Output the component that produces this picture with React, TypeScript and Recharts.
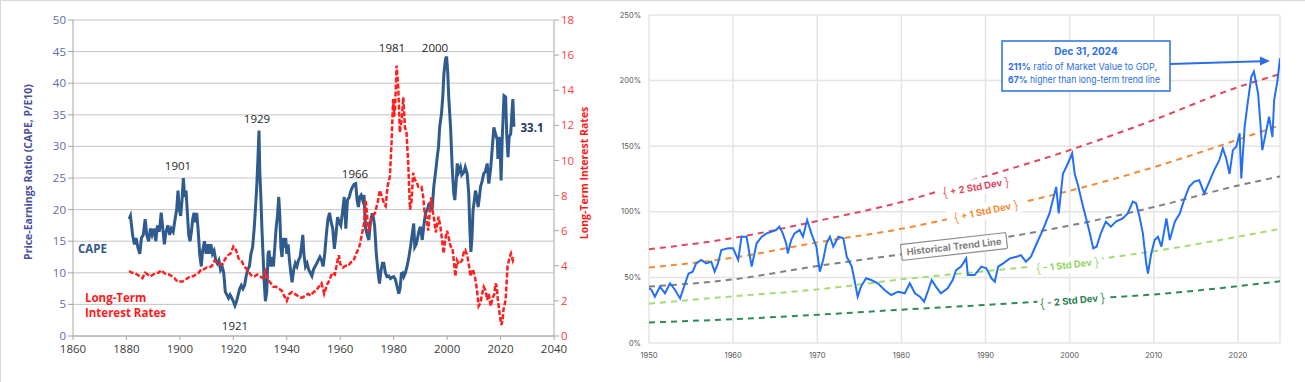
import React from "react";
import { LineChart, Line, XAxis, YAxis, CartesianGrid } from "recharts";

// ---------- left panel: Shiller CAPE vs long-term interest rates ----------
const capeYears = [
  1881, 1881.5, 1882.3, 1883, 1883.6, 1884.3, 1885, 1885.6, 1886.3, 1887, 1887.6, 1888.3, 1889, 1889.6,
  1890.3, 1891, 1891.6, 1892.3, 1893, 1893.6, 1894.2, 1894.8, 1895.5, 1896.2, 1896.8, 1897.5, 1898.2,
  1898.8, 1899.3, 1899.8, 1900.3, 1900.8, 1901.3, 1901.8, 1902.3, 1902.8, 1903.3, 1903.8, 1904.3, 1904.8,
  1905.3, 1905.8, 1906.3, 1906.8, 1907.4, 1908, 1908.5, 1909.2, 1909.8, 1910.4, 1911, 1911.6, 1912.2,
  1912.8, 1913.4, 1914, 1914.6, 1915.2, 1915.8, 1916.4, 1917, 1917.6, 1918.2, 1918.8, 1919.4, 1920,
  1920.6, 1921.2, 1921.8, 1922.4, 1923, 1923.6, 1924.2, 1924.8, 1925.4, 1926, 1926.6, 1927.2, 1927.8,
  1928.4, 1928.8, 1929.2, 1929.6, 1929.9, 1930.3, 1930.7, 1931.1, 1931.5, 1932, 1932.5, 1933, 1933.4,
  1933.8, 1934.4, 1935, 1935.5, 1936, 1936.5, 1937, 1937.4, 1937.8, 1938.2, 1938.7, 1939.2, 1939.6, 1940,
  1940.5, 1941, 1941.5, 1942, 1942.6, 1943.2, 1943.8, 1944.4, 1945, 1945.6, 1946, 1946.4, 1947, 1947.6,
  1948.2, 1948.8, 1949.4, 1950, 1950.6, 1951.2, 1951.8, 1952.4, 1953, 1953.6, 1954.2, 1954.8, 1955.4,
  1956, 1956.6, 1957.2, 1957.8, 1958.4, 1959, 1959.6, 1960.2, 1960.8, 1961.5, 1962.1, 1962.7, 1963.4,
  1964, 1964.6, 1965.2, 1965.8, 1966.3, 1966.8, 1967.3, 1967.8, 1968.4, 1968.9, 1969.5, 1970.1, 1970.7,
  1971.3, 1972, 1972.5, 1972.9, 1973.5, 1974.2, 1974.7, 1975.3, 1975.8, 1976.3, 1976.9, 1977.5, 1978.2,
  1978.8, 1979.4, 1980, 1980.6, 1981.3, 1981.9, 1982.4, 1982.9, 1983.4, 1983.8, 1984.4, 1985, 1985.7,
  1986.3, 1986.9, 1987.5, 1987.9, 1988.4, 1988.8, 1989.4, 1990, 1990.7, 1991.3, 1991.9, 1992.6, 1993.2,
  1993.8, 1994.4, 1995, 1995.7, 1996.3, 1996.8, 1997.2, 1997.9, 1998.4, 1998.8, 1999.4, 1999.8, 2000.2,
  2000.6, 2001.3, 2001.9, 2002.5, 2002.9, 2003.4, 2003.8, 2004.4, 2005, 2005.5, 2005.9, 2006.4, 2006.8,
  2007.5, 2008.1, 2008.5, 2008.9, 2009.3, 2009.7, 2010.2, 2010.6, 2011.1, 2011.6, 2012.1, 2012.5, 2013.1,
  2013.7, 2014.3, 2015, 2015.6, 2016.3, 2016.9, 2017.5, 2018.1, 2018.8, 2019, 2019.4, 2019.8, 2020.2,
  2020.6, 2021, 2021.3, 2021.9, 2022.3, 2022.8, 2023.2, 2023.8, 2024.2, 2024.6, 2025,
];
const capeValues = [
  18.5, 19, 16, 14.5, 15.5, 14, 13, 15.5, 16, 18.5, 16, 15, 17, 16,
  17, 15, 17.5, 16.5, 19.5, 17, 14.5, 16.5, 17.5, 16, 17, 16.5, 18.5,
  20, 23, 20, 19, 21.5, 25, 22, 23, 19.5, 16, 15, 16.5, 18.5,
  19.5, 18, 19.5, 17, 13, 11, 13.5, 15, 13, 14.5, 13, 14.5, 13,
  13.5, 12, 11.5, 12, 10.5, 11, 10, 7, 6.5, 6, 6.5, 6, 5.5,
  4.8, 5.5, 6.5, 7.5, 8, 7.5, 8, 9.5, 10.5, 11, 13, 14, 17,
  21, 24, 28, 32.5, 26, 22, 17, 13, 9, 5.5, 7, 13, 13.5,
  11, 12.5, 11, 14, 17, 19, 22, 19, 14, 12.5, 15.5, 14, 15.5, 13,
  14.5, 12, 10, 8.5, 10.5, 11.5, 11, 12, 12.5, 14.5, 16, 13, 11, 11.5,
  10.5, 10, 9.5, 10.5, 11, 11.5, 12, 12.5, 12, 11, 13, 16, 18.5,
  19.5, 18, 17, 13.8, 16, 18.8, 18, 17.5, 19.4, 22, 17, 21.5, 22,
  23, 23.6, 24, 24.1, 21.5, 20.4, 22, 22.3, 21.5, 22.3, 17, 16, 15.2,
  18, 19.4, 18.5, 17.3, 13, 9.9, 8.3, 10.5, 11.5, 11.5, 10, 9.4, 9.5,
  9.1, 9.3, 9.4, 9, 7.8, 6.7, 7.5, 9.9, 10, 9.4, 10, 11, 12.5,
  14.1, 16, 17.8, 14.1, 14.5, 15.2, 16.5, 17.3, 15.2, 17.5, 19.4, 20, 20.9,
  21, 20, 23.6, 26, 28.3, 30, 33, 35.2, 38, 41.5, 43.8, 44.2, 42,
  37.8, 33, 26.7, 22.5, 21.5, 24.5, 27.3, 26, 26.7, 25.5, 25.7, 26, 26.7,
  25.7, 22.5, 17, 13.3, 15.5, 19.9, 21.5, 23, 22, 20.4, 22, 23.6, 24.5,
  25.7, 26, 27.3, 24.1, 26.5, 29.8, 33, 32, 31, 28, 31.5, 30.5, 24.6,
  31, 35, 38, 37.8, 32, 28.3, 31.5, 32, 35, 37.5, 33.1,
];

const rateYears = [
  1881, 1882, 1883, 1884, 1885, 1886, 1887, 1888, 1889, 1890, 1891, 1892, 1893, 1894, 1895, 1896,
  1897, 1898, 1899, 1900, 1901, 1902, 1903, 1904, 1905, 1906, 1907, 1908, 1909, 1910, 1911, 1912,
  1913, 1914, 1915, 1916, 1917, 1918, 1919, 1920, 1921, 1922, 1923, 1924, 1925, 1926, 1927, 1928,
  1929, 1930, 1931, 1932, 1933, 1934, 1935, 1936, 1937, 1938, 1939, 1940, 1941, 1942, 1943, 1944,
  1945, 1946, 1947, 1948, 1949, 1950, 1951, 1952, 1953, 1954, 1955, 1956, 1957, 1958, 1959, 1959.5,
  1960, 1961, 1962, 1963, 1964, 1965, 1966, 1967, 1968, 1969, 1969.5, 1970, 1970.5, 1971, 1972,
  1973, 1974, 1974.8, 1975.7, 1976.5, 1977, 1977.7, 1978.6, 1979.2, 1979.8, 1980.2, 1980.5, 1981.1,
  1981.7, 1982.3, 1983, 1983.6, 1984.2, 1984.8, 1985.5, 1986.1, 1986.7, 1987.3, 1987.9, 1988.6,
  1989.2, 1990.4, 1991, 1991.6, 1992.3, 1992.9, 1993.5, 1994, 1994.5, 1995, 1995.8, 1996.8, 1997.5,
  1998.1, 1998.7, 1999.3, 2000, 2000.6, 2001.3, 2002, 2002.5, 2003.1, 2003.7, 2004.4, 2005, 2005.6,
  2006.3, 2006.8, 2007.5, 2008.1, 2008.7, 2009.6, 2010.4, 2011.2, 2011.8, 2012.5, 2013.1, 2013.7,
  2014.4, 2015, 2015.6, 2016.3, 2017.1, 2017.7, 2018.1, 2018.6, 2019, 2019.8, 2020.3, 2020.8, 2021.1,
  2021.9, 2022.6, 2023.4, 2023.9, 2024.6, 2025,
];
const rateValues = [
  3.7, 3.6, 3.6, 3.5, 3.4, 3.3, 3.6, 3.5, 3.4, 3.5, 3.6, 3.6, 3.75, 3.6, 3.5, 3.5,
  3.4, 3.3, 3.1, 3.1, 3.1, 3.2, 3.3, 3.4, 3.4, 3.5, 3.6, 3.8, 3.8, 3.9, 3.9, 4.0,
  4.3, 4.2, 4.1, 4.1, 4.4, 4.6, 4.7, 5.1, 4.9, 4.4, 4.3, 4.0, 3.8, 3.6, 3.4, 3.4,
  3.5, 3.4, 3.3, 3.7, 3.2, 3.0, 2.8, 2.8, 2.7, 2.6, 2.3, 2.0, 2.4, 2.5, 2.4, 2.3,
  2.2, 2.2, 2.3, 2.4, 2.3, 2.5, 2.6, 2.8, 3.0, 2.4, 2.9, 3.2, 3.6, 3.5, 4.3, 4.6,
  4.1, 3.9, 4.0, 4.0, 4.2, 4.3, 4.7, 5.0, 5.7, 6.5, 7.75, 7.0, 5.9, 6.3, 6.8,
  7.0, 7.6, 8.3, 7.9, 7.5, 7.4, 8.5, 9.1, 11, 13.5, 12.5, 12.9, 15.4,
  14.2, 11.6, 12.3, 13.6, 11.9, 11.6, 9.7, 7.2, 7.7, 9.3, 8.9, 8.8,
  8.5, 8.5, 8.0, 7.0, 6.8, 6.0, 7.0, 7.9, 7.2, 6.8, 5.9, 6.8, 6.2,
  5.5, 4.7, 5.5, 6.0, 5.6, 5.1, 5.0, 4.3, 3.4, 4.3, 4.1, 4.2, 4.3,
  4.8, 4.9, 4.6, 4.1, 3.4, 3.8, 3.4, 2.6, 1.7, 1.9, 2.4, 2.8,
  2.6, 2.05, 2.4, 1.7, 2.2, 2.4, 3.0, 2.8, 2.05, 1.1, 0.63, 0.9, 1.5,
  2.05, 3.95, 4.5, 4.7, 4.3, 4.5,
];

const capeTicks = [0, 5, 10, 15, 20, 25, 30, 35, 40, 45, 50];
const rateTicks = [0, 2, 4, 6, 8, 10, 12, 14, 16, 18];
const leftYearTicks = [1860, 1880, 1900, 1920, 1940, 1960, 1980, 2000, 2020, 2040];

// ---------- right panel: market value to GDP ----------
const mvYears = [
  1950, 1950.3, 1950.7, 1951.3, 1951.9, 1952.5, 1953.1, 1953.7, 1954.3, 1954.7, 1955.2, 1955.6, 1956.2,
  1956.8, 1957.4, 1957.8, 1958.2, 1958.6, 1959.4, 1960, 1960.6, 1961, 1961.6, 1962.2, 1962.8, 1963.4,
  1964, 1964.6, 1965.1, 1965.5, 1965.9, 1966.3, 1966.5, 1966.9, 1967.3, 1967.9, 1968.3, 1968.8, 1969.3,
  1969.9, 1970.3, 1970.7, 1971.1, 1971.5, 1971.9, 1972.5, 1973.1, 1973.5, 1974.1, 1974.5, 1974.8,
  1975.2, 1975.8, 1976.4, 1977.2, 1978, 1978.8, 1979.6, 1980.4, 1981, 1981.6, 1982.2, 1982.7, 1983.2,
  1983.6, 1984.1, 1984.7, 1985.5, 1986.1, 1986.5, 1987.1, 1987.7, 1987.9, 1988.7, 1989.5, 1990.1,
  1990.7, 1991.1, 1991.5, 1992.1, 1992.9, 1993.7, 1994.2, 1994.8, 1995.4, 1996, 1996.8, 1997.6, 1998.4,
  1998.7, 1999.2, 1999.8, 2000.3, 2000.6, 2001, 2001.4, 2002, 2002.4, 2002.8, 2003.2, 2003.7, 2004.3,
  2004.9, 2005.5, 2006.3, 2006.9, 2007.5, 2007.9, 2008.3, 2008.7, 2009.1, 2009.3, 2009.7, 2010.1,
  2010.5, 2010.9, 2011.5, 2011.9, 2012.5, 2013.1, 2013.6, 2014.2, 2014.8, 2015.4, 2016, 2016.6, 2017.2,
  2017.8, 2018.2, 2018.6, 2019, 2019.4, 2019.8, 2020.2, 2020.4, 2020.8, 2021.2, 2021.6, 2021.9, 2022.4,
  2022.7, 2022.9, 2023.3, 2023.7, 2024.1, 2024.3, 2024.7, 2025,
];
const mvValues = [
  42, 40.4, 35.3, 43, 37.9, 45.5, 40.4, 34, 45.5, 53, 54.4, 60.7, 63.3,
  60.7, 62, 54.4, 60.7, 70.9, 72.2, 72.2, 63.3, 81, 81, 58.2, 76, 81,
  83.6, 84.9, 86.1, 88.7, 83.6, 76, 68.3, 78.5, 83.6, 86.1, 81, 93.7, 83.6,
  73.4, 54.4, 63.3, 76, 81, 73.4, 81, 79.8, 65.8, 58.2, 45.5, 35.3,
  43, 49.3, 48, 45.5, 40.4, 36.6, 39.1, 37.9, 45.5, 37.9, 35.3, 31.5, 40.4,
  48, 43, 37.9, 41.7, 48, 55.6, 58.2, 64.5, 51.8, 51.8, 58.2, 57,
  49.3, 46.7, 58.2, 60.7, 64.5, 65.8, 67, 62, 65.8, 74.7, 86.1, 98.8, 119,
  98.8, 129, 137, 144.6, 129, 120, 109, 93.7, 83.6, 72.2, 73.4, 83.6, 92.5,
  88.7, 92.5, 95, 98.8, 107.7, 106.5, 96.3, 83.6, 60.7, 53, 68.3, 78.5,
  81, 73.4, 95, 78.5, 92.5, 98.8, 109, 119, 123, 124, 114, 123, 132,
  139.5, 148.4, 140.8, 129, 147, 149.6, 159.8, 125.5, 164.9, 185, 203, 206.8, 190,
  164.9, 147, 159.8, 172.5, 157, 185, 200, 217,
];

const trendYears = [1950, 1960, 1970, 1980, 1990, 2000, 2010, 2020, 2025];
const plus2Std = [71.5, 80, 93, 107.5, 127, 147, 170, 195, 205];
const plus1Std = [57.5, 65, 76.7, 87, 101, 116, 134, 155, 166];
const trendLine = [43, 48.5, 58.7, 67.7, 78, 89.5, 103.6, 120, 127];
const minus1Std = [30, 35.6, 40.8, 48.5, 54.8, 61.3, 70, 81, 87];
const minus2Std = [15.6, 18.2, 21.5, 25.4, 29, 33, 37, 43.3, 47];

const pctTicks = [0, 50, 100, 150, 200, 250];
const rightYearTicks = [1950, 1960, 1970, 1980, 1990, 2000, 2010, 2020];

const capeData = capeYears.map((year, i) => ({ year, cape: capeValues[i] }));
const rateData = rateYears.map((year, i) => ({ year, rate: rateValues[i] }));
const mvData = mvYears.map((year, i) => ({ year, mv: mvValues[i] }));
const bandData = trendYears.map((year, i) => ({
  year,
  p2: plus2Std[i],
  p1: plus1Std[i],
  t: trendLine[i],
  m1: minus1Std[i],
  m2: minus2Std[i],
}));

const LEFT_FONT = "'Open Sans', sans-serif";
const RIGHT_FONT = "Inter, sans-serif";

function BandLabel({ x, y, angle, color, text, w }: any) {
  return (
    <g transform={`translate(${x},${y}) rotate(${angle})`}>
      <rect x={-w / 2} y={-8} width={w} height={16} fill="#fff" />
      <text textAnchor="middle" dominantBaseline="central" fontSize={9.5} fontWeight={700} fill={color} fontFamily={RIGHT_FONT}>
        <tspan fontSize={13} fontWeight={300}>{"{"}</tspan>
        {` ${text} `}
        <tspan fontSize={13} fontWeight={300}>{"}"}</tspan>
      </text>
    </g>
  );
}

export default function App() {
  return (
    <div
      style={{
        position: "absolute",
        left: 0,
        top: 0,
        width: 1305,
        height: 382,
        background: "#fff",
        borderTop: "1px solid #d9d9d9",
        borderLeft: "1px solid #d9d9d9",
        boxSizing: "border-box",
      }}
    >
      <div style={{ position: "absolute", left: -1, top: -1 }}>
        <LineChart width={605} height={382} margin={{ top: 20, right: 0, bottom: 0, left: 0 }}>
          <CartesianGrid vertical={false} stroke="#c4c4c4" />
          <XAxis
            type="number"
            dataKey="year"
            domain={[1860, 2040]}
            ticks={leftYearTicks}
            height={46}
            tickSize={4}
            tickMargin={5}
            tick={{ fill: "#3a3a3a", fontSize: 11.5, fontFamily: LEFT_FONT }}
            axisLine={{ stroke: "#a6a6a6" }}
            tickLine={{ stroke: "#a6a6a6" }}
            allowDataOverflow
          />
          <YAxis
            domain={[0, 50]}
            ticks={capeTicks}
            width={73}
            tickSize={5}
            tick={{ fill: "#6468ad", fontSize: 11.5, fontFamily: LEFT_FONT }}
            axisLine={{ stroke: "#a6a6a6" }}
            tickLine={{ stroke: "#a6a6a6" }}
          />
          <YAxis
            yAxisId="rate"
            orientation="right"
            domain={[0, 18]}
            ticks={rateTicks}
            width={51}
            tickSize={5}
            tick={{ fill: "#ff3b3b", fontSize: 11.5, fontFamily: LEFT_FONT }}
            axisLine={{ stroke: "#a6a6a6" }}
            tickLine={{ stroke: "#a6a6a6" }}
          />
          <Line
            data={capeData}
            dataKey="cape"
            type="linear"
            stroke="#2f5b8e"
            strokeWidth={3}
            dot={false}
            isAnimationActive={false}
          />
          <Line
            yAxisId="rate"
            data={rateData}
            dataKey="rate"
            type="linear"
            stroke="#ff1f1f"
            strokeWidth={2.5}
            strokeDasharray="5 2"
            dot={false}
            isAnimationActive={false}
          />
        </LineChart>
      </div>

      <div style={{ position: "absolute", left: 604, top: -1 }}>
        <LineChart width={700} height={382} margin={{ top: 15, right: 25, bottom: 0, left: 0 }}>
          <CartesianGrid stroke="#e4e4e4" strokeWidth={1.5} />
          <XAxis
            type="number"
            dataKey="year"
            domain={[1950, 2025]}
            ticks={rightYearTicks}
            height={39}
            tickLine={false}
            axisLine={false}
            tickMargin={4}
            tick={{ fill: "#555", fontSize: 7.5, fontFamily: RIGHT_FONT }}
            allowDataOverflow
          />
          <YAxis
            domain={[0, 250]}
            ticks={pctTicks}
            width={44}
            tickLine={false}
            axisLine={false}
            tickFormatter={(v: number) => `${v}%`}
            tick={{ fill: "#555", fontSize: 7.5, fontFamily: RIGHT_FONT }}
          />
          <Line data={bandData} dataKey="m2" type="monotone" stroke="#2e8b57" strokeWidth={2} strokeDasharray="6 5" dot={false} isAnimationActive={false} />
          <Line data={bandData} dataKey="m1" type="monotone" stroke="#a3dc75" strokeWidth={2} strokeDasharray="6 5" dot={false} isAnimationActive={false} />
          <Line data={bandData} dataKey="t" type="monotone" stroke="#808080" strokeWidth={2} strokeDasharray="6 5" dot={false} isAnimationActive={false} />
          <Line data={bandData} dataKey="p1" type="monotone" stroke="#f58a33" strokeWidth={2} strokeDasharray="6 5" dot={false} isAnimationActive={false} />
          <Line data={bandData} dataKey="p2" type="monotone" stroke="#e0475e" strokeWidth={2} strokeDasharray="6 5" dot={false} isAnimationActive={false} />
          <Line data={mvData} dataKey="mv" type="linear" stroke="#2370f5" strokeWidth={2} dot={false} isAnimationActive={false} />
        </LineChart>
      </div>

      <svg
        width={1305}
        height={382}
        style={{ position: "absolute", left: -1, top: -1, pointerEvents: "none" }}
      >
        {/* left panel titles and annotations */}
        <text
          transform="translate(28,172) rotate(-90)"
          textAnchor="middle"
          dominantBaseline="central"
          fontSize={10.5}
          fontWeight={700}
          fill="#4a4e9e"
          fontFamily={LEFT_FONT}
        >
          Price-Earnings Ratio (CAPE, P/E10)
        </text>
        <text
          transform="translate(584,173) rotate(-90)"
          textAnchor="middle"
          dominantBaseline="central"
          fontSize={10.5}
          fontWeight={700}
          fill="#ff1a1a"
          fontFamily={LEFT_FONT}
        >
          Long-Term Interest Rates
        </text>
        <g fontSize={11.5} fill="#262626" fontFamily={LEFT_FONT} textAnchor="middle" dominantBaseline="central">
          <text x={178} y={165}>1901</text>
          <text x={257} y={118}>1929</text>
          <text x={235} y={325}>1921</text>
          <text x={355} y={173}>1966</text>
          <text x={392} y={47}>1981</text>
          <text x={435} y={47}>2000</text>
        </g>
        <text x={532} y={127} textAnchor="middle" dominantBaseline="central" fontSize={11.5} fontWeight={700} fill="#1f3864" fontFamily={LEFT_FONT}>
          33.1
        </text>
        <text x={92.5} y={248} textAnchor="middle" dominantBaseline="central" fontSize={11.5} fontWeight={700} fill="#2f5b8e" fontFamily={LEFT_FONT}>
          CAPE
        </text>
        <g fontSize={11.5} fontWeight={700} fill="#ff1a1a" fontFamily={LEFT_FONT} dominantBaseline="central">
          <text x={85} y={297}>Long-Term</text>
          <text x={85} y={312}>Interest Rates</text>
        </g>

        {/* right panel band labels */}
        <BandLabel x={976} y={187} angle={-10} color="#e0475e" text="+ 2 Std Dev" w={80} />
        <BandLabel x={986} y={211} angle={-12} color="#f58a33" text="+ 1 Std Dev" w={80} />
        <g transform="translate(954,246.5) rotate(-6.5)">
          <rect x={-53} y={-8} width={106} height={16} rx={1.5} fill="#fff" stroke="#8c8c8c" strokeWidth={1.2} />
          <text textAnchor="middle" dominantBaseline="central" fontSize={9.5} fontWeight={700} fill="#7f7f7f" fontFamily={RIGHT_FONT}>
            Historical Trend Line
          </text>
        </g>
        <BandLabel x={1067.5} y={265} angle={-6.5} color="#8fd460" text="- 1 Std Dev" w={70} />
        <BandLabel x={1072.5} y={300.5} angle={-5.5} color="#2e7d4f" text="- 2 Std Dev" w={70} />

        {/* callout */}
        <rect x={1002} y={41} width={168} height={50} fill="#fff" stroke="#2b6fe6" strokeWidth={1.5} />
        <g fontFamily={RIGHT_FONT} fill="#2b6fe6" fontSize={9.5}>
          <text x={1086} y={51} textAnchor="middle" dominantBaseline="central" fontWeight={700} fontSize={10}>
            Dec 31, 2024
          </text>
          <text x={1008} y={66} dominantBaseline="central" textLength={149} lengthAdjust="spacingAndGlyphs">
            <tspan fontWeight={700}>211%</tspan> ratio of Market Value to GDP,
          </text>
          <text x={1008} y={79} dominantBaseline="central" textLength={152} lengthAdjust="spacingAndGlyphs">
            <tspan fontWeight={700}>67%</tspan> higher than long-term trend line
          </text>
        </g>
        <line x1={1170} y1={64} x2={1261} y2={61.3} stroke="#2b6fe6" strokeWidth={2} />
        <polygon points="1270,61 1260,56.5 1260,65.5" fill="#2b6fe6" />
      </svg>
    </div>
  );
}
